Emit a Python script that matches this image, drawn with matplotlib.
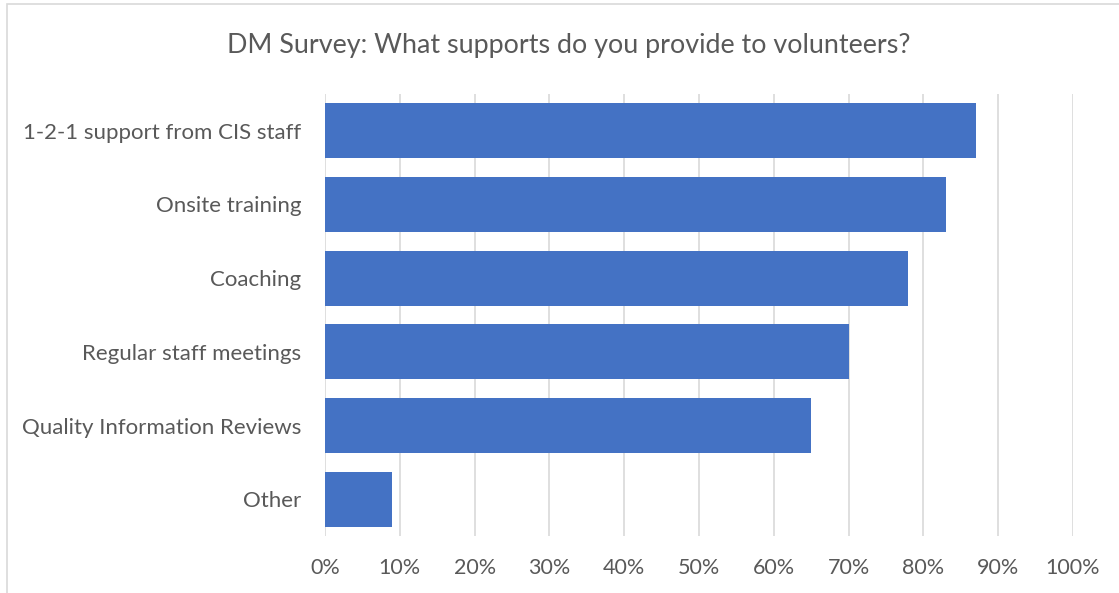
import matplotlib
matplotlib.use('Agg')
import matplotlib.pyplot as plt
from matplotlib.patches import Rectangle
from matplotlib.ticker import PercentFormatter

plt.rcParams['font.family'] = ['Lato', 'DejaVu Sans']

BAR = "#4472C4"
TEXT = "#595959"
GRID = "#D9D9D9"

categories = ['1-2-1 support from CIS staff', 'Onsite training', 'Coaching',
              'Regular staff meetings', 'Quality Information Reviews', 'Other']
values = [87, 83, 78, 70, 65, 9]
x_ticks = [0, 10, 20, 30, 40, 50, 60, 70, 80, 90, 100]

W, H = 1119, 593
fig = plt.figure(figsize=(W / 100, H / 100), dpi=100)
ax = fig.add_axes([325 / W, 1 - 536 / H, (1073 - 325) / W, (536 - 94) / H])

# outer chart border (only top/left visible in the crop)
fig.patches.append(Rectangle((7 / W, -0.1), 1.2, 1 - 4.5 / H + 0.1,
                             transform=fig.transFigure, fill=False,
                             edgecolor=GRID, linewidth=1.2))

pos = list(range(len(categories)))
ax.barh(pos, values, height=0.75, color=BAR, zorder=3)
ax.set_yticks(pos)
ax.set_yticklabels(categories)
ax.set_ylim(len(categories) - 0.5, -0.5)

ax.set_xlim(0, 100)
ax.set_xticks(x_ticks)
ax.xaxis.set_major_formatter(PercentFormatter(decimals=0))
ax.grid(axis='x', color=GRID, linewidth=1.2, zorder=0)
ax.set_axisbelow(True)
for s in ax.spines.values():
    s.set_visible(False)

ax.tick_params(axis='y', length=0, pad=17, labelsize=16, labelcolor=TEXT)
ax.tick_params(axis='x', length=0, pad=16, labelsize=15.5, labelcolor=TEXT)

fig.text(569 / W, 1 - 45 / H, 'DM Survey: What supports do you provide to volunteers?',
         ha='center', va='center', fontsize=19.4, color=TEXT)

fig.savefig('out.png', dpi=100)
